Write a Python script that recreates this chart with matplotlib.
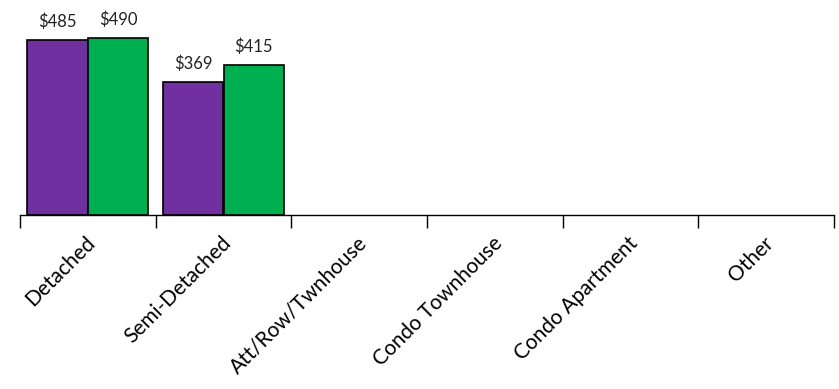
import matplotlib
matplotlib.use("Agg")
import matplotlib.pyplot as plt
import numpy as np

categories = ["Detached", "Semi-Detached", "Att/Row/Twnhouse",
              "Condo Townhouse", "Condo Apartment", "Other"]
series_a = [485, 369, None, None, None, None]
series_b = [490, 415, None, None, None, None]

purple = "#7030A0"
green = "#00B050"

plt.rcParams["font.family"] = ["Lato", "DejaVu Sans"]

fig = plt.figure(figsize=(8.39, 3.89), dpi=100)
ax = fig.add_axes([20 / 839, 1 - 215 / 389, 814 / 839, 213 / 389])

x = np.arange(len(categories))
w = 0.446
for vals, off, col in [(series_a, -w / 2, purple), (series_b, w / 2, green)]:
    for xi, v in zip(x, vals):
        if v is None:
            continue
        ax.bar(xi + off, v, width=w, color=col, edgecolor="black", linewidth=1.2, zorder=2)
        ax.annotate(f"${v}", (xi + off, v), xytext=(0, 7), textcoords="offset points",
                    ha="center", va="bottom", fontsize=12, color="#222222")

ax.set_xlim(-0.5, len(categories) - 0.5)
ax.set_ylim(0, 590)

for s in ["top", "right", "left"]:
    ax.spines[s].set_visible(False)
ax.spines["bottom"].set_linewidth(1.0)
ax.set_yticks([])

ax.set_xticks(x - 0.02)
ax.set_xticklabels(categories, rotation=45, ha="right", rotation_mode="anchor", fontsize=15)
ax.tick_params(axis="x", which="major", length=0, pad=13)
ax.set_xticks(np.arange(len(categories) + 1) - 0.5, minor=True)
ax.tick_params(axis="x", which="minor", length=9, width=1.0, direction="out")

fig.savefig("out.png", dpi=100)
